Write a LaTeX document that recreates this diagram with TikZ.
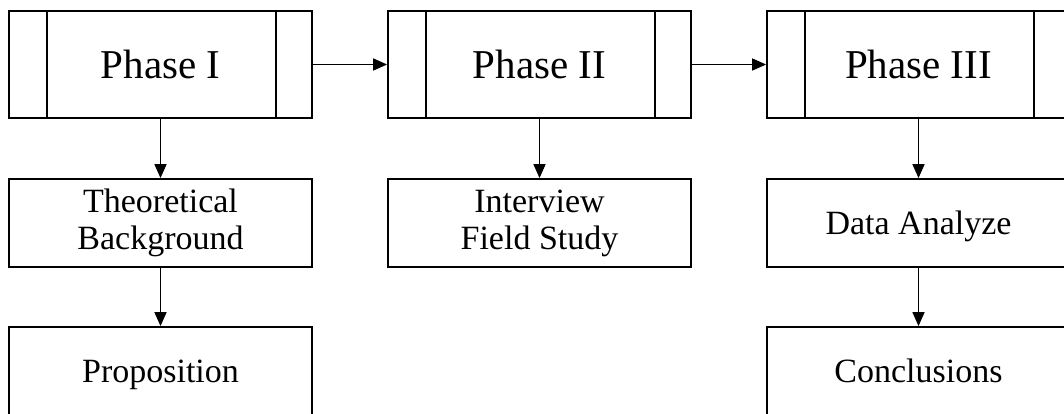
\documentclass[tikz,border=0pt]{standalone}
\usepackage{fontspec}
\setmainfont{Liberation Serif}
\usetikzlibrary{arrows.meta}
\begin{document}
\begin{tikzpicture}[x=1pt,y=-1pt,
  phase/.style={draw, line width=1.8pt, minimum width=303pt, minimum height=107pt,
    inner sep=0pt, text height=27pt, text depth=0pt, font=\fontsize{41}{45}\selectfont},
  task/.style={draw, line width=1.8pt, minimum width=303pt, minimum height=88pt,
    inner sep=0pt, align=center, font=\fontsize{34}{37}\selectfont},
  oneline/.style={text height=22pt, text depth=0pt},
  flow/.style={line width=1.6pt, -{Triangle[length=14pt,width=12pt]}},
  bar/.style={line width=1.8pt}
]
\useasboundingbox (0,0) rectangle (1064,413);
\clip (0,0) rectangle (1064,413);

% phase boxes with side bars
\node[phase] (p1) at (160.5,64.5) {Phase I};
\node[phase] (p2) at (539.5,64.5) {Phase II};
\node[phase] (p3) at (918.5,64.5) {Phase III};
\foreach \p in {p1,p2,p3}{
  \draw[bar] ([xshift=38.5pt]\p.north west) -- ([xshift=38.5pt]\p.south west);
  \draw[bar] ([xshift=-37pt]\p.north east) -- ([xshift=-37pt]\p.south east);
}

% activity boxes
\node[task] (tb) at (160.5,223) {Theoretical\\Background};
\node[task] (fs) at (539.5,223) {Interview\\Field Study};
\node[task,oneline] (da) at (918.5,223) {Data Analyze};
\node[task,oneline] (pr) at (160.5,371) {Proposition};
\node[task,oneline] (co) at (918.5,371) {Conclusions};

% connectors
\draw[flow] (p1.east) -- (p2.west);
\draw[flow] (p2.east) -- (p3.west);
\draw[flow] (p1.south) -- (tb.north);
\draw[flow] (p2.south) -- (fs.north);
\draw[flow] (p3.south) -- (da.north);
\draw[flow] (tb.south) -- (pr.north);
\draw[flow] (da.south) -- (co.north);
\end{tikzpicture}
\end{document}
